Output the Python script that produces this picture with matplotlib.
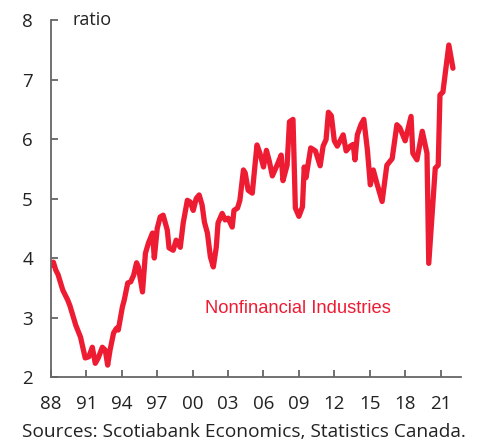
import matplotlib.pyplot as plt
import numpy as np

# ratio, nonfinancial industries
years = np.array([
    1988.0, 1988.2, 1988.4, 1988.6, 1989.0, 1989.4, 1989.6, 1990.1, 1990.5, 1990.75,
    1990.9, 1991.2, 1991.5, 1991.75, 1992.0, 1992.35, 1992.6, 1992.8, 1993.0, 1993.3,
    1993.55, 1993.7, 1994.05, 1994.2, 1994.5, 1994.75, 1995.0, 1995.25, 1995.4, 1995.75,
    1996.0, 1996.25, 1996.6, 1996.75, 1997.0, 1997.25, 1997.5, 1997.85, 1998.0, 1998.35,
    1998.6, 1998.95, 1999.2, 1999.55, 1999.8, 2000.05, 2000.3, 2000.55, 2000.8, 2001.0,
    2001.25, 2001.5, 2001.75, 2002.0, 2002.15, 2002.5, 2002.75, 2003.0, 2003.35, 2003.5,
    2003.8, 2004.0, 2004.3, 2004.45, 2004.7, 2005.05, 2005.3, 2005.45, 2005.7, 2006.0,
    2006.25, 2006.5, 2006.75, 2007.15, 2007.5, 2007.65, 2008.0, 2008.2, 2008.5, 2008.7,
    2009.0, 2009.3, 2009.45, 2009.6, 2010.0, 2010.4, 2010.8, 2011.05, 2011.3, 2011.5,
    2011.75, 2012.0, 2012.25, 2012.75, 2013.0, 2013.35, 2013.6, 2013.75, 2013.95, 2014.25,
    2014.5, 2014.8, 2015.05, 2015.3, 2015.6, 2016.05, 2016.45, 2016.9, 2017.3, 2017.55,
    2018.0, 2018.5, 2018.65, 2019.0, 2019.45, 2019.85, 2020.0, 2020.55, 2020.8, 2020.95,
    2021.2, 2021.7, 2022.05,
])
ratio = np.array([
    3.88, 3.93, 3.80, 3.72, 3.46, 3.30, 3.20, 2.87, 2.67, 2.45,
    2.32, 2.34, 2.50, 2.23, 2.32, 2.50, 2.45, 2.20, 2.45, 2.74,
    2.82, 2.79, 3.18, 3.29, 3.58, 3.60, 3.71, 3.92, 3.85, 3.43,
    4.08, 4.25, 4.42, 4.00, 4.50, 4.69, 4.72, 4.47, 4.17, 4.13,
    4.30, 4.18, 4.59, 4.97, 4.94, 4.80, 5.00, 5.06, 4.89, 4.60,
    4.42, 4.02, 3.85, 4.18, 4.59, 4.75, 4.64, 4.67, 4.52, 4.80,
    4.84, 4.97, 5.48, 5.43, 5.14, 5.09, 5.60, 5.90, 5.76, 5.53,
    5.81, 5.62, 5.38, 5.56, 5.73, 5.30, 5.56, 6.29, 6.33, 4.84,
    4.70, 4.86, 5.53, 5.35, 5.85, 5.80, 5.55, 5.88, 5.99, 6.45,
    6.39, 5.97, 5.88, 6.07, 5.80, 5.88, 5.91, 5.65, 6.07, 6.24,
    6.33, 5.82, 5.23, 5.48, 5.26, 4.95, 5.56, 5.67, 6.24, 6.19,
    5.97, 6.38, 5.76, 5.65, 6.13, 5.76, 3.91, 5.51, 5.56, 6.74,
    6.79, 7.58, 7.19,
])

tick_years = np.arange(1988, 2022, 3)
tick_labels = ['88', '91', '94', '97', '00', '03', '06', '09', '12', '15', '18', '21']

red = '#ee1c33'
grey = '#666666'
plt.rcParams['font.family'] = ['Open Sans', 'DejaVu Sans']

fig = plt.figure(figsize=(4.78, 4.45), dpi=100)
ax = fig.add_axes([0.1067, 0.1528, 0.8577, 0.8022])

ax.plot(years, ratio, color=red, lw=3.8, solid_joinstyle='round', solid_capstyle='round')

ax.set_xlim(1988, 2022.73)
ax.set_ylim(2, 8)
ax.set_xticks(tick_years)
ax.set_xticklabels(tick_labels)
ax.set_yticks(range(2, 9))

for s in ['top', 'right']:
    ax.spines[s].set_visible(False)
for s in ['left', 'bottom']:
    ax.spines[s].set_color(grey)
    ax.spines[s].set_linewidth(1.3)
ax.tick_params(axis='both', direction='in', length=5, width=1.3, color=grey,
               labelsize=13.5, labelcolor='#222222')
ax.tick_params(axis='y', pad=13)
ax.tick_params(axis='x', pad=13)

ax.text(0.053, 1.0, 'ratio', transform=ax.transAxes, fontsize=13,
        color='#222222', va='center', ha='left')
ax.text(2001.07, 3.15, 'Nonfinancial Industries', color=red, fontsize=13.2,
        family='Liberation Sans', va='center', ha='left')

fig.text(0.046, 0.029, 'Sources: Scotiabank Economics, Statistics Canada.',
         fontsize=13.8, color='#222222', va='center', ha='left')

fig.savefig('out.png', dpi=100)
